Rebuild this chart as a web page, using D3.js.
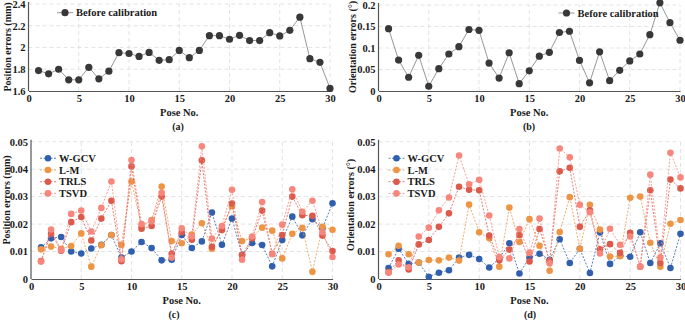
<!DOCTYPE html>
<html>
<head>
<meta charset="utf-8">
<script src="https://cdn.jsdelivr.net/npm/d3@7"></script>
<style>
  html, body { margin: 0; padding: 0; background: #fff; }
  svg { display: block; }
  text { font-family: "Liberation Serif", "Times New Roman", serif; font-weight: bold; fill: #1a1a1a; }
</style>
</head>
<body>
<svg id="chart" width="685" height="320"></svg>
<script>
// ---------- data ----------
const poses = d3.range(1, 31);
const beforePos = [1.788,1.758,1.800,1.703,1.703,1.818,1.712,1.782,1.952,1.945,1.918,1.955,1.882,1.888,1.973,1.906,1.973,2.109,2.109,2.076,2.112,2.064,2.064,2.136,2.106,2.158,2.279,1.897,1.864,1.624];
const beforeOri = [0.145,0.072,0.032,0.083,0.011,0.052,0.086,0.103,0.143,0.141,0.065,0.030,0.089,0.017,0.047,0.081,0.090,0.136,0.139,0.071,0.019,0.091,0.024,0.048,0.070,0.086,0.131,0.205,0.159,0.118];

const posWGCV = [0.0115,0.0148,0.0153,0.0100,0.0093,0.0111,0.0125,0.0160,0.0078,0.0100,0.0135,0.0113,0.0068,0.0070,0.0160,0.0113,0.0137,0.0242,0.0125,0.0220,0.0088,0.0131,0.0124,0.0046,0.0142,0.0227,0.0159,0.0218,0.0185,0.0276];
const posLM   = [0.0108,0.0118,0.0110,0.0120,0.0166,0.0045,0.0123,0.0160,0.0125,0.0355,0.0190,0.0215,0.0337,0.0138,0.0130,0.0162,0.0203,0.0110,0.0185,0.0265,0.0138,0.0150,0.0187,0.0176,0.0075,0.0165,0.0186,0.0026,0.0190,0.0179];
const posTRLS = [0.0065,0.0165,0.0103,0.0207,0.0226,0.0140,0.0220,0.0285,0.0065,0.0410,0.0183,0.0193,0.0300,0.0092,0.0170,0.0143,0.0432,0.0117,0.0178,0.0275,0.0087,0.0148,0.0249,0.0092,0.0160,0.0300,0.0232,0.0230,0.0158,0.0102];
const posTSVD = [0.0064,0.0180,0.0105,0.0237,0.0249,0.0173,0.0259,0.0355,0.0072,0.0433,0.0200,0.0210,0.0314,0.0078,0.0185,0.0155,0.0483,0.0147,0.0193,0.0325,0.0070,0.0155,0.0280,0.0090,0.0198,0.0327,0.0245,0.0285,0.0170,0.0080];

const oriWGCV = [0.0040,0.0110,0.0055,0.0060,0.0008,0.0023,0.0032,0.0078,0.0088,0.0073,0.0042,0.0075,0.0130,0.0020,0.0078,0.0092,0.0070,0.0145,0.0058,0.0110,0.0022,0.0170,0.0055,0.0085,0.0081,0.0170,0.0058,0.0130,0.0040,0.0165];
const oriLM   = [0.0090,0.0121,0.0090,0.0060,0.0069,0.0068,0.0078,0.0067,0.0271,0.0170,0.0148,0.0045,0.0260,0.0135,0.0218,0.0121,0.0030,0.0171,0.0298,0.0110,0.0270,0.0180,0.0082,0.0083,0.0296,0.0300,0.0132,0.0045,0.0201,0.0215];
const oriTRLS = [0.0025,0.0068,0.0035,0.0126,0.0142,0.0190,0.0239,0.0336,0.0325,0.0323,0.0158,0.0068,0.0107,0.0160,0.0064,0.0182,0.0065,0.0392,0.0405,0.0190,0.0250,0.0108,0.0127,0.0095,0.0168,0.0045,0.0323,0.0058,0.0362,0.0330];
const oriTSVD = [0.0023,0.0053,0.0043,0.0155,0.0187,0.0250,0.0297,0.0450,0.0345,0.0361,0.0231,0.0080,0.0075,0.0182,0.0095,0.0220,0.0057,0.0475,0.0443,0.0270,0.0243,0.0093,0.0183,0.0125,0.0155,0.0045,0.0380,0.0078,0.0460,0.0370];

const methodNames = ["W-GCV", "L-M", "TRLS", "TSVD"];
const methodColors = ["#2f5fae", "#ee9545", "#db5a4c", "#f7877c"];

const xTicks = [0, 5, 10, 15, 20, 25, 30];
const ticksPos = [1.6, 1.8, 2, 2.2, 2.4];
const ticksOri = [0, 0.05, 0.1, 0.15, 0.2];
const ticksSmall = [0, 0.01, 0.02, 0.03, 0.04, 0.05];

// ---------- drawing ----------
const svg = d3.select("#chart");
const fmt = d => String(+d.toFixed(3));

function panel(cfg) {
  const g = svg.append("g");
  const x = d3.scaleLinear().domain([0, 30]).range([cfg.x0, cfg.x1]);
  const y = d3.scaleLinear().domain(cfg.yDomain).range([cfg.y0, cfg.y1]);

  // grid
  g.append("g").selectAll("line.h").data(cfg.yTicks.slice(1)).join("line")
    .attr("x1", cfg.x0).attr("x2", cfg.x1)
    .attr("y1", d => y(d)).attr("y2", d => y(d))
    .attr("stroke", "#dcdcdc").attr("stroke-width", 0.8).attr("stroke-dasharray", "4,3");
  g.append("g").selectAll("line.v").data(xTicks.slice(1)).join("line")
    .attr("x1", d => x(d)).attr("x2", d => x(d))
    .attr("y1", cfg.y0).attr("y2", y(cfg.yTicks[cfg.yTicks.length - 1]))
    .attr("stroke", "#dcdcdc").attr("stroke-width", 0.8).attr("stroke-dasharray", "4,3");

  // axes
  const ax = g.append("g").attr("transform", `translate(0,${cfg.y0})`)
    .call(d3.axisBottom(x).tickValues(xTicks).tickSize(0).tickPadding(4).tickFormat(d3.format("d")));
  const ay = g.append("g").attr("transform", `translate(${cfg.x0},0)`)
    .call(d3.axisLeft(y).tickValues(cfg.yTicks).tickSize(0).tickPadding(3).tickFormat(fmt));
  [ax, ay].forEach(a => {
    a.select(".domain").attr("stroke", "#555").attr("stroke-width", 1.2);
    a.selectAll("text").attr("font-size", 10.5).attr("font-family", "Liberation Serif").attr("font-weight", "bold").attr("fill", "#1a1a1a");
  });
  ay.select(".domain").attr("d", `M0,${cfg.y0}V${y(cfg.yTicks[cfg.yTicks.length - 1]) - 2}`);

  // titles
  g.append("text").attr("x", (cfg.x0 + cfg.x1) / 2).attr("y", cfg.y0 + 25)
    .attr("text-anchor", "middle").attr("font-size", 10.5).text("Pose No.");
  g.append("text").attr("transform", `translate(${cfg.ylabX},${cfg.ylabY}) rotate(-90)`)
    .attr("text-anchor", "middle").attr("dominant-baseline", "central").attr("font-size", 10).text(cfg.ylab);
  g.append("text").attr("x", cfg.capX).attr("y", cfg.y0 + 39)
    .attr("text-anchor", "middle").attr("font-size", 10).text(cfg.caption);

  // series
  const line = d3.line().x((d, i) => x(poses[i])).y(d => y(d));
  cfg.series.forEach(s => {
    g.append("path").attr("d", line(s.values)).attr("fill", "none")
      .attr("stroke", s.lineColor).attr("stroke-width", s.lw)
      .attr("stroke-dasharray", s.dash || null);
    g.append("g").selectAll("circle").data(s.values).join("circle")
      .attr("cx", (d, i) => x(poses[i])).attr("cy", d => y(d)).attr("r", s.r)
      .attr("fill", s.color);
  });

  // legend
  cfg.series.forEach((s, i) => {
    const ly = cfg.legY + i * cfg.legDy;
    g.append("line").attr("x1", cfg.legX - 8).attr("x2", cfg.legX + 8).attr("y1", ly).attr("y2", ly)
      .attr("stroke", s.lineColor).attr("stroke-width", s.lw).attr("stroke-dasharray", s.dash || null);
    g.append("circle").attr("cx", cfg.legX).attr("cy", ly).attr("r", s.r).attr("fill", s.color);
    g.append("text").attr("x", cfg.legX + 11).attr("y", ly).attr("dominant-baseline", "central")
      .attr("font-size", 10.5).text(s.name);
  });
}

const beforeStyle = v => [{ name: "Before calibration", values: v, color: "#383838", lineColor: "#8a8a8a", lw: 0.9, r: 3.6, dash: null }];
const methodSeries = vals => vals.map((v, i) => ({
  name: methodNames[i], values: v, color: methodColors[i], lineColor: methodColors[i], lw: 0.8, r: 3.3, dash: "2,1.5"
}));

panel({ x0: 28.5, x1: 330, y0: 91, y1: 4, yDomain: [1.6, 2.4], yTicks: ticksPos,
  ylab: "Position errors (mm)", ylabX: 7, ylabY: 47, capX: 178, caption: "(a)",
  series: beforeStyle(beforePos), legX: 65, legY: 12.7, legDy: 12 });
panel({ x0: 378.5, x1: 680, y0: 91, y1: 5, yDomain: [0, 0.2], yTicks: ticksOri,
  ylab: "Orientation errors (°)", ylabX: 352, ylabY: 47, capX: 529, caption: "(b)",
  series: beforeStyle(beforeOri), legX: 566.5, legY: 13, legDy: 12 });
panel({ x0: 31, x1: 332.5, y0: 279, y1: 141.7, yDomain: [0, 0.05], yTicks: ticksSmall,
  ylab: "Position errors (mm)", ylabX: 6, ylabY: 200, capX: 174, caption: "(c)",
  series: methodSeries([posWGCV, posLM, posTRLS, posTSVD]), legX: 48, legY: 158.3, legDy: 11.7 });
panel({ x0: 378.5, x1: 680.5, y0: 279, y1: 141.7, yDomain: [0, 0.05], yTicks: ticksSmall,
  ylab: "Orientation errors (°)", ylabX: 350, ylabY: 205, capX: 530, caption: "(d)",
  series: methodSeries([oriWGCV, oriLM, oriTRLS, oriTSVD]), legX: 396.5, legY: 158.3, legDy: 11.7 });
</script>
</body>
</html>
